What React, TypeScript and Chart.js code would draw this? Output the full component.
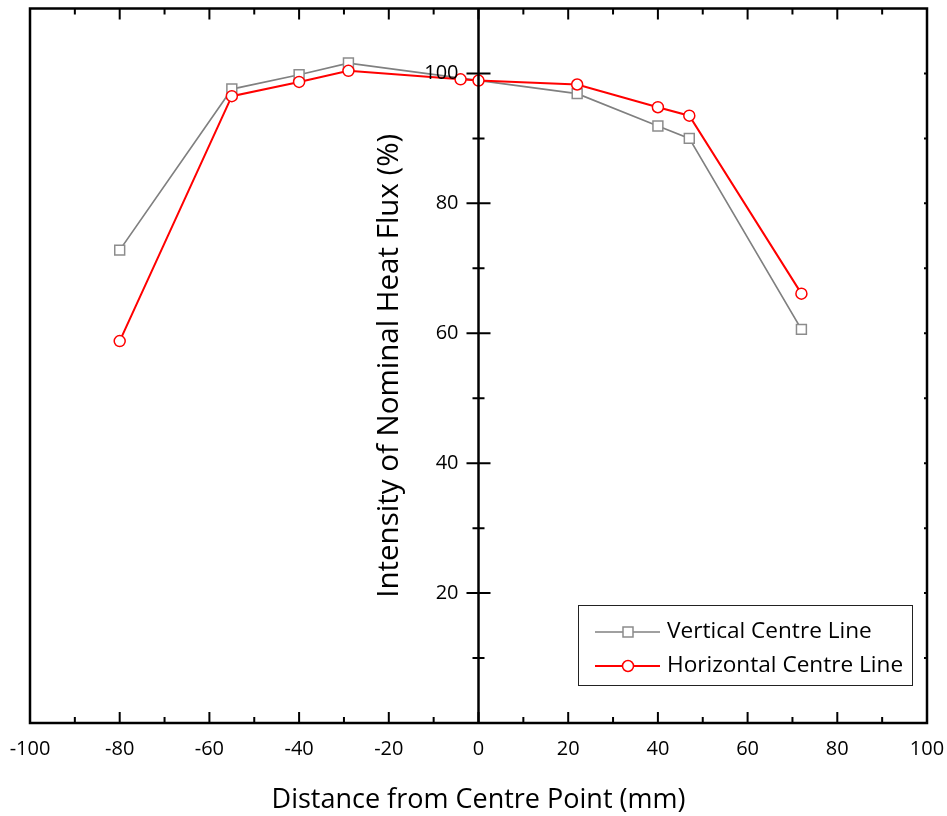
import { useEffect, useRef } from "react";
import { Chart, registerables } from "chart.js";

Chart.register(...registerables);

// Axis tick values
const xTickValues = [-100, -80, -60, -40, -20, 0, 20, 40, 60, 80, 100];
const xMinorValues = [-90, -70, -50, -30, -10, 10, 30, 50, 70, 90];
const yTickValues = [20, 40, 60, 80, 100];
const yMinorValues = [10, 30, 50, 70, 90];

// Measured heat flux along the two centre lines
const verticalX = [-80, -55, -40, -29, 22, 40, 47, 72];
const verticalY = [72.8, 97.6, 99.8, 101.6, 96.9, 91.9, 90.0, 60.6];
const horizontalX = [-80, -55, -40, -29, -4, 0, 22, 40, 47, 72];
const horizontalY = [58.8, 96.5, 98.7, 100.4, 99.1, 98.9, 98.3, 94.8, 93.5, 66.1];

const xTitle = "Distance from Centre Point (mm)";
const yTitle = "Intensity of Nominal Heat Flux (%)";

const FONT = "'Open Sans', sans-serif";

const axesPlugin = {
  id: "originAxes",
  afterDatasetsDraw(chart: any) {
    const { ctx, chartArea: a, scales } = chart;
    const xs = scales.x;
    const ys = scales.y;
    const x0 = xs.getPixelForValue(0);
    ctx.save();
    ctx.strokeStyle = "#000";
    ctx.lineCap = "butt";

    // frame
    ctx.lineWidth = 2.5;
    ctx.strokeRect(a.left, a.top, a.right - a.left, a.bottom - a.top);

    // y axis through x = 0
    ctx.beginPath();
    ctx.moveTo(x0, a.top);
    ctx.lineTo(x0, a.bottom);
    ctx.stroke();

    ctx.lineWidth = 2;
    // x ticks, pointing inwards on bottom and top
    const tickX = (v: number, len: number) => {
      const px = xs.getPixelForValue(v);
      ctx.beginPath();
      ctx.moveTo(px, a.bottom);
      ctx.lineTo(px, a.bottom - len);
      ctx.moveTo(px, a.top);
      ctx.lineTo(px, a.top + len);
      ctx.stroke();
    };
    xTickValues.forEach((v) => tickX(v, 11));
    xMinorValues.forEach((v) => tickX(v, 6));

    // y ticks crossing the centre axis, small ticks on the right spine
    const tickY = (v: number, half: number) => {
      const py = ys.getPixelForValue(v);
      ctx.beginPath();
      ctx.moveTo(x0 - half, py);
      ctx.lineTo(x0 + half, py);
      ctx.moveTo(a.right, py);
      ctx.lineTo(a.right - 3, py);
      ctx.stroke();
    };
    yTickValues.forEach((v) => tickY(v, 12));
    yMinorValues.forEach((v) => tickY(v, 6));

    // tick labels
    ctx.fillStyle = "#000";
    ctx.font = `20px ${FONT}`;
    ctx.textAlign = "center";
    ctx.textBaseline = "middle";
    xTickValues.forEach((v) => {
      ctx.fillText(String(v), xs.getPixelForValue(v), a.bottom + 26);
    });
    ctx.textAlign = "right";
    yTickValues.forEach((v) => {
      ctx.fillText(String(v), x0 - 20, ys.getPixelForValue(v));
    });

    // axis titles
    ctx.font = `27px ${FONT}`;
    ctx.textAlign = "center";
    ctx.fillText(xTitle, x0, a.bottom + 77);
    ctx.save();
    ctx.font = `29.5px ${FONT}`;
    ctx.translate(390, (a.top + a.bottom) / 2);
    ctx.rotate(-Math.PI / 2);
    ctx.fillText(yTitle, 0, 0);
    ctx.restore();

    // legend box
    const lx = 578, ly = 605, lw = 334, lh = 80;
    ctx.fillStyle = "#fff";
    ctx.fillRect(lx, ly, lw, lh);
    ctx.lineWidth = 1;
    ctx.strokeStyle = "#222";
    ctx.strokeRect(lx + 0.5, ly + 0.5, lw, lh);
    const rows = [632, 666];
    chart.data.datasets.forEach((ds: any, i: number) => {
      const ry = rows[i];
      ctx.strokeStyle = ds.borderColor;
      ctx.lineWidth = ds.borderWidth;
      ctx.beginPath();
      ctx.moveTo(595, ry);
      ctx.lineTo(660, ry);
      ctx.stroke();
      ctx.fillStyle = "#fff";
      ctx.strokeStyle = ds.pointBorderColor;
      ctx.lineWidth = ds.pointBorderWidth;
      ctx.beginPath();
      if (ds.pointStyle === "rect") {
        ctx.rect(628 - 5, ry - 5, 10, 10);
      } else {
        ctx.arc(628, ry, 5.5, 0, Math.PI * 2);
      }
      ctx.fill();
      ctx.stroke();
      ctx.fillStyle = "#000";
      ctx.font = `22.6px ${FONT}`;
      ctx.textAlign = "left";
      ctx.textBaseline = "middle";
      ctx.fillText(ds.label, 667, ry);
    });
    ctx.restore();
  },
};

export default function App() {
  const ref = useRef<HTMLCanvasElement>(null);

  useEffect(() => {
    const canvas = ref.current;
    if (!canvas) return;
    const chart = new Chart(canvas, {
      type: "line",
      data: {
        datasets: [
          {
            label: "Vertical Centre Line",
            data: verticalX.map((x, i) => ({ x, y: verticalY[i] })),
            borderColor: "#808080",
            borderWidth: 1.7,
            pointStyle: "rect",
            pointRadius: 7,
            pointBorderColor: "#8c8c8c",
            pointBackgroundColor: "#ffffff",
            pointBorderWidth: 1.5,
            order: 2,
          },
          {
            label: "Horizontal Centre Line",
            data: horizontalX.map((x, i) => ({ x, y: horizontalY[i] })),
            borderColor: "#ff0000",
            borderWidth: 2,
            pointStyle: "circle",
            pointRadius: 5.5,
            pointBorderColor: "#ff0000",
            pointBackgroundColor: "#ffffff",
            pointBorderWidth: 1.5,
            order: 1,
          },
        ] as any,
      },
      options: {
        responsive: false,
        animation: false,
        layout: { padding: { left: 30, top: 6, right: 20, bottom: 93 } },
        elements: { line: { tension: 0 } },
        scales: {
          x: { type: "linear", min: -100, max: 100, display: false },
          y: { type: "linear", min: 0, max: 110, display: false },
        },
        plugins: {
          legend: { display: false },
          tooltip: { enabled: false },
        },
      },
      plugins: [axesPlugin],
    });
    return () => chart.destroy();
  }, []);

  return (
    <div style={{ position: "absolute", left: 0, top: 0, width: 947, height: 816, background: "#fff" }}>
      <canvas ref={ref} width={947} height={816} style={{ display: "block" }} />
    </div>
  );
}
